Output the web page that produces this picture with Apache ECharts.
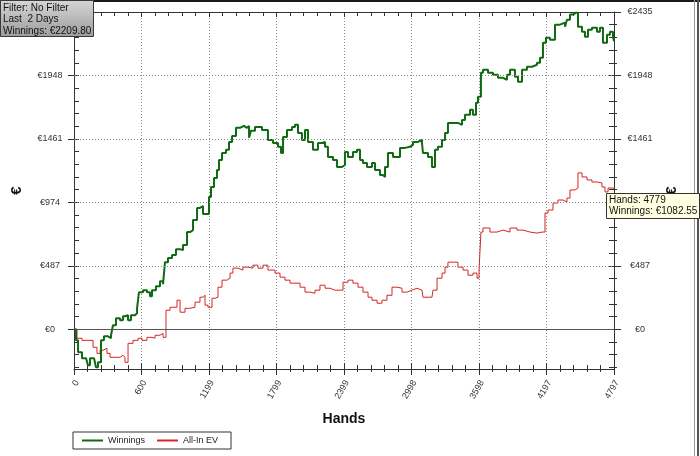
<!DOCTYPE html>
<html><head><meta charset="utf-8">
<script src="https://cdn.jsdelivr.net/npm/echarts@6/dist/echarts.min.js"></script>
<style>html,body{margin:0;padding:0;background:#fff}#c{width:700px;height:456px}</style>
</head><body><div id="c"></div><script>
const winHands = [0,18,36,71,107,124,142,178,195,213,240,266,302,329,346,373,409,435,453,480,506,542,560,577,613,648,675,693,728,764,791,808,835,871,906,942,968,1004,1030,1057,1093,1119,1146,1181,1199,1217,1244,1270,1288,1315,1350,1377,1404,1439,1475,1510,1537,1555,1572,1608,1643,1670,1697,1723,1768,1812,1839,1857,1892,1937,1963,1990,2025,2052,2079,2123,2167,2203,2230,2256,2301,2336,2381,2407,2434,2478,2514,2541,2567,2603,2647,2674,2718,2745,2763,2789,2834,2869,2896,2940,2985,3011,3056,3091,3100,3145,3180,3207,3233,3269,3296,3322,3367,3411,3447,3473,3518,3544,3571,3589,3615,3633,3678,3722,3766,3811,3846,3873,3917,3944,3980,4024,4068,4113,4140,4166,4193,4228,4273,4317,4362,4379,4406,4433,4459,4477,4513,4539,4566,4601,4646,4672,4699,4735,4761,4788,4797];
const winValues = [0,-85,-177,-223,-238,-277,-223,-223,-292,-254,-85,-54,-69,-46,31,85,69,100,108,69,108,123,161,284,300,284,254,300,331,369,346,515,546,569,615,607,646,746,761,838,931,946,884,884,1015,1092,1161,1223,1300,1353,1377,1438,1484,1546,1561,1546,1561,1469,1523,1553,1553,1530,1530,1453,1430,1400,1353,1476,1530,1553,1569,1507,1453,1530,1438,1377,1430,1438,1400,1323,1300,1246,1261,1361,1323,1361,1377,1300,1277,1246,1277,1223,1184,1169,1246,1353,1323,1323,1392,1400,1415,1438,1453,1430,1353,1323,1246,1377,1400,1453,1507,1584,1584,1569,1607,1646,1684,1646,1738,1784,1969,1992,1969,1953,1930,1915,1953,1992,1938,1899,1992,2015,2030,2046,2084,2199,2238,2222,2338,2353,2322,2376,2415,2430,2430,2322,2284,2245,2299,2315,2284,2315,2199,2261,2284,2245,2209.8];
const evHands = [0,27,71,142,169,204,231,258,293,320,364,409,435,453,480,524,569,604,648,693,720,764,791,817,853,915,942,986,1030,1075,1119,1146,1164,1190,1226,1253,1279,1315,1359,1386,1412,1457,1501,1546,1590,1634,1679,1723,1785,1830,1874,1919,1963,2008,2052,2096,2141,2185,2230,2274,2318,2363,2390,2434,2478,2523,2567,2612,2647,2692,2736,2780,2825,2869,2914,2958,3002,3047,3091,3100,3145,3180,3189,3225,3269,3296,3322,3367,3411,3456,3500,3544,3580,3598,3615,3633,3695,3757,3811,3873,3935,3989,4051,4113,4157,4184,4211,4255,4299,4344,4379,4406,4451,4477,4513,4557,4601,4646,4690,4717,4744,4779,4797];
const evValues = [0,-69,-85,-85,-138,-185,-161,-146,-185,-215,-215,-200,-215,-254,-108,-85,-69,-85,-62,-69,-46,-31,-62,146,169,223,131,161,169,208,246,261,185,169,238,246,323,377,392,431,469,454,477,469,492,469,492,454,431,400,377,354,354,323,285,277,300,338,315,300,300,300,361,377,354,323,285,246,223,200,223,261,323,315,285,300,315,300,300,246,246,238,300,392,431,477,515,515,477,454,415,431,392,454,746,777,746,761,746,777,761,746,738,746,746,892,915,969,992,977,1007,1069,1084,1200,1169,1146,1130,1123,1092,1054,1084,1082.55,1077];
const xTickLabels = ['0','600','1199','1799','2399','2998','3598','4197','4797'];
const yTickValues = [0,487,974,1461,1948,2435];
const seriesNames = ['Winnings','All-In EV'];
const filterLines = ['Filter: No Filter','Last  2 Days','Winnings: \u20ac2209.80'];
const tipLines = ['Hands: 4779','Winnings: \u20ac1082.55'];

const X_MAX = 4797, Y_MIN = -305, Y_MAX = 2435;
const X_INT = X_MAX / 8;
const yMinorValues = [];
for (let k = -3; k <= 25; k++) yMinorValues.push(+(k * 97.4).toFixed(1));

const FONT = 'Liberation Sans, Arial, sans-serif';
const AX = '#333';
function pairs(xs, ys) { return xs.map((x, i) => [x, ys[i]]); }

function xAx(extra) {
  const o = Object.assign({
    type: 'value', min: 0, max: X_MAX, interval: X_INT,
    axisLine: { show: false }, axisTick: { show: false }, minorTick: { show: false },
    axisLabel: { show: false }, splitLine: { show: false }
  }, extra);
  o.axisLine = Object.assign({ onZero: false }, o.axisLine);
  return o;
}
function yAx(extra) {
  const o = Object.assign({
    type: 'value', min: Y_MIN, max: Y_MAX,
    axisLine: { show: false }, axisTick: { show: false },
    axisLabel: { show: false }, splitLine: { show: false }
  }, extra);
  o.axisLine = Object.assign({ onZero: false }, o.axisLine);
  return o;
}

const chart = echarts.init(document.getElementById('c'), null, { renderer: 'canvas' });
chart.setOption({
  backgroundColor: '#ffffff',
  animation: false,
  grid: [
    { left: 74, right: 86, top: 12, bottom: 87, containLabel: false },
    { left: 77, right: 83, top: 12, bottom: 87, containLabel: false }
  ],
  legend: {
    left: 73, top: 432, orient: 'horizontal',
    data: seriesNames,
    borderColor: '#333', borderWidth: 1, borderRadius: 0,
    backgroundColor: '#fff',
    padding: [4, 13, 4, 9], itemGap: 12,
    itemWidth: 21, itemHeight: 2, icon: 'rect',
    textStyle: { fontSize: 9, color: '#222', fontFamily: FONT }
  },
  xAxis: [
    xAx({
      position: 'bottom',
      axisLine: { show: true, lineStyle: { color: AX, width: 1 } },
      axisTick: { show: true, length: 6, lineStyle: { color: AX } },
      minorTick: { show: true, splitNumber: 5, length: 3, lineStyle: { color: AX } },
      splitLine: { show: true, lineStyle: { color: '#8a8a8a', type: [1, 2], width: 1 } },
      name: 'Hands', nameLocation: 'middle', nameGap: 43,
      nameTextStyle: { fontSize: 14, fontWeight: 'bold', color: '#111', fontFamily: FONT }
    }),
    xAx({
      position: 'bottom',
      axisTick: { show: true, inside: true, length: 6, lineStyle: { color: AX } },
      minorTick: { show: true, splitNumber: 5, length: 4, lineStyle: { color: AX } }
    }),
    xAx({
      position: 'top',
      axisLine: { show: true, lineStyle: { color: AX, width: 1 } },
      axisTick: { show: true, inside: true, length: 5, lineStyle: { color: AX } },
      minorTick: { show: true, splitNumber: 5, length: 4, lineStyle: { color: AX } }
    }),
    xAx({
      gridIndex: 1, position: 'bottom',
      axisLabel: {
        show: true, rotate: 60, fontSize: 9, color: '#333', fontFamily: FONT, margin: 12,
        formatter: v => xTickLabels[Math.round(v / X_INT)]
      }
    })
  ],
  yAxis: [
    yAx({
      position: 'left',
      axisLine: { show: true, lineStyle: { color: AX, width: 1 } },
      axisTick: { show: true, length: 6, customValues: yTickValues, lineStyle: { color: AX } },
      axisLabel: {
        show: true, customValues: yTickValues, align: 'center', margin: 24,
        fontSize: 9, color: '#333', fontFamily: FONT, formatter: v => '\u20ac' + v
      },
      name: '\u20ac', nameLocation: 'middle', nameGap: 50,
      nameTextStyle: { fontSize: 15, fontWeight: 'bold', color: '#111', fontFamily: FONT }
    }),
    yAx({
      position: 'left',
      axisTick: { show: true, inside: true, length: 5, customValues: yMinorValues, lineStyle: { color: AX } }
    }),
    yAx({
      position: 'right',
      axisLine: { show: true, lineStyle: { color: AX, width: 1 } },
      axisTick: { show: true, length: 7, customValues: yTickValues, lineStyle: { color: AX } },
      axisLabel: {
        show: true, customValues: yTickValues, align: 'center', margin: 26,
        fontSize: 9, color: '#333', fontFamily: FONT, formatter: v => '\u20ac' + v
      },
      name: '\u20ac', nameLocation: 'middle', nameGap: 50,
      nameTextStyle: { fontSize: 15, fontWeight: 'bold', color: '#111', fontFamily: FONT }
    }),
    yAx({
      position: 'right',
      axisTick: { show: true, inside: true, length: 5, customValues: yMinorValues, lineStyle: { color: AX } }
    }),
    yAx({
      position: 'right',
      axisTick: { show: true, length: 3, customValues: yMinorValues, lineStyle: { color: AX } }
    }),
    yAx({ gridIndex: 1, show: false })
  ],
  series: [
    {
      name: seriesNames[0], type: 'line', xAxisIndex: 0, yAxisIndex: 0,
      data: pairs(winHands, winValues), step: 'end',
      symbol: 'none', showSymbol: false, z: 4,
      lineStyle: { color: '#0f6a12', width: 2 }, itemStyle: { color: '#0f6a12' },
      markLine: {
        silent: true, symbol: ['none', 'none'], label: { show: false }, animation: false,
        data: [
          { yAxis: 0, lineStyle: { color: '#555', type: 'solid', width: 1 } },
          ...yTickValues.slice(1, -1).map(v => ({ yAxis: v, lineStyle: { color: '#8a8a8a', type: [1, 2], width: 1 } }))
        ]
      }
    },
    {
      name: seriesNames[1], type: 'line', xAxisIndex: 0, yAxisIndex: 0,
      data: pairs(evHands, evValues), step: 'end',
      symbol: 'none', showSymbol: false, z: 3,
      lineStyle: { color: '#d42626', width: 1 }, itemStyle: { color: '#d42626' }
    }
  ],
  graphic: [
    { type: 'rect', shape: { x: 0, y: 0, width: 700, height: 2 }, style: { fill: '#1a1a1a' }, z: 90 },
    { type: 'line', shape: { x1: 694.5, y1: 0, x2: 694.5, y2: 456 }, style: { stroke: '#9a9a9a', lineWidth: 1 }, z: 90 },
    { type: 'line', shape: { x1: 698, y1: 0, x2: 698, y2: 456 }, style: { stroke: '#555', lineWidth: 2 }, z: 90 },
    {
      type: 'rect', shape: { x: 0.5, y: 0.5, width: 93, height: 36 }, z: 100,
      style: {
        stroke: '#3a3a3a', lineWidth: 1,
        fill: new echarts.graphic.LinearGradient(0, 0, 0, 1, [
          { offset: 0, color: '#d6d6d6' }, { offset: 1, color: '#9c9c9c' }
        ])
      }
    },
    ...filterLines.map((t, i) => ({
      type: 'text', x: 3, y: 3 + i * 11.5, z: 101,
      style: { text: t, font: '10px ' + FONT, fill: '#111', textVerticalAlign: 'top' }
    })),
    { type: 'rect', shape: { x: 606.5, y: 193.5, width: 93, height: 25 }, style: { fill: '#ffffe1', stroke: '#333', lineWidth: 1 }, z: 100 },
    ...tipLines.map((t, i) => ({
      type: 'text', x: 609, y: 195 + i * 11, z: 101,
      style: { text: t, font: '10px ' + FONT, fill: '#111', textVerticalAlign: 'top' }
    }))
  ]
});
</script></body></html>
